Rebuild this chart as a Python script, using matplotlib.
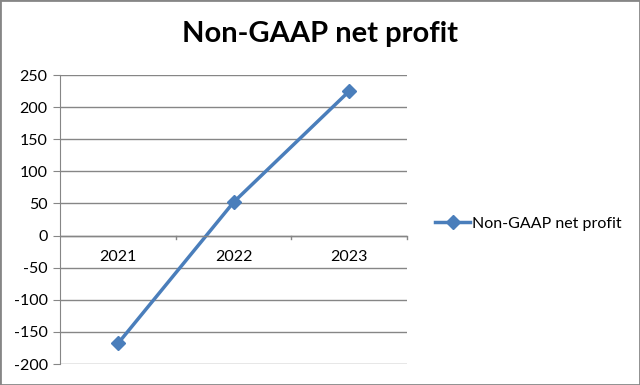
import matplotlib.pyplot as plt
from matplotlib.patches import Rectangle

years = ['2021', '2022', '2023']
profit = [-168, 52, 225]
yticks = [-200, -150, -100, -50, 0, 50, 100, 150, 200, 250]

plt.rcParams['font.family'] = ['Lato', 'DejaVu Sans']

fig = plt.figure(figsize=(6.4, 3.85), dpi=100)
ax = fig.add_axes([0.094, 0.0545, 0.542, 0.7505])

x = range(len(years))
ax.plot(x, profit, color='#4A7EBB', lw=2.5, marker='D', ms=7,
        label='Non-GAAP net profit')

ax.set_xlim(-0.5, 2.5)
ax.set_ylim(-200, 250)
ax.set_yticks(yticks)
ax.set_yticklabels([str(v) for v in yticks], fontsize=11.5)
ax.yaxis.grid(True, color='#868686', lw=1)
ax.set_axisbelow(True)
ax.tick_params(axis='y', length=5, color='#868686', pad=4)

# category axis crosses at zero
for s in ['top', 'right', 'bottom']:
    ax.spines[s].set_visible(False)
ax.spines['left'].set_color('#868686')
ax.set_xticks([])
ax.axhline(0, color='#868686', lw=1)
for b in [0.5, 1.5, 2.5]:
    ax.plot([b, b], [0, -6], color='#868686', lw=1, clip_on=False)
for i, yr in enumerate(years):
    ax.text(i, -34, yr, ha='center', va='center', fontsize=11.5)

fig.suptitle('Non-GAAP net profit', fontsize=21, fontweight='bold', y=0.945)
ax.legend(loc='center left', bbox_to_anchor=(1.04, 0.485), frameon=False,
          fontsize=11.5, handlelength=2.2, handletextpad=0.1)

fig.patches.append(Rectangle((0, 0), 1, 1, transform=fig.transFigure,
                             fill=False, edgecolor='#868686', lw=2))
fig.savefig('out.png')
